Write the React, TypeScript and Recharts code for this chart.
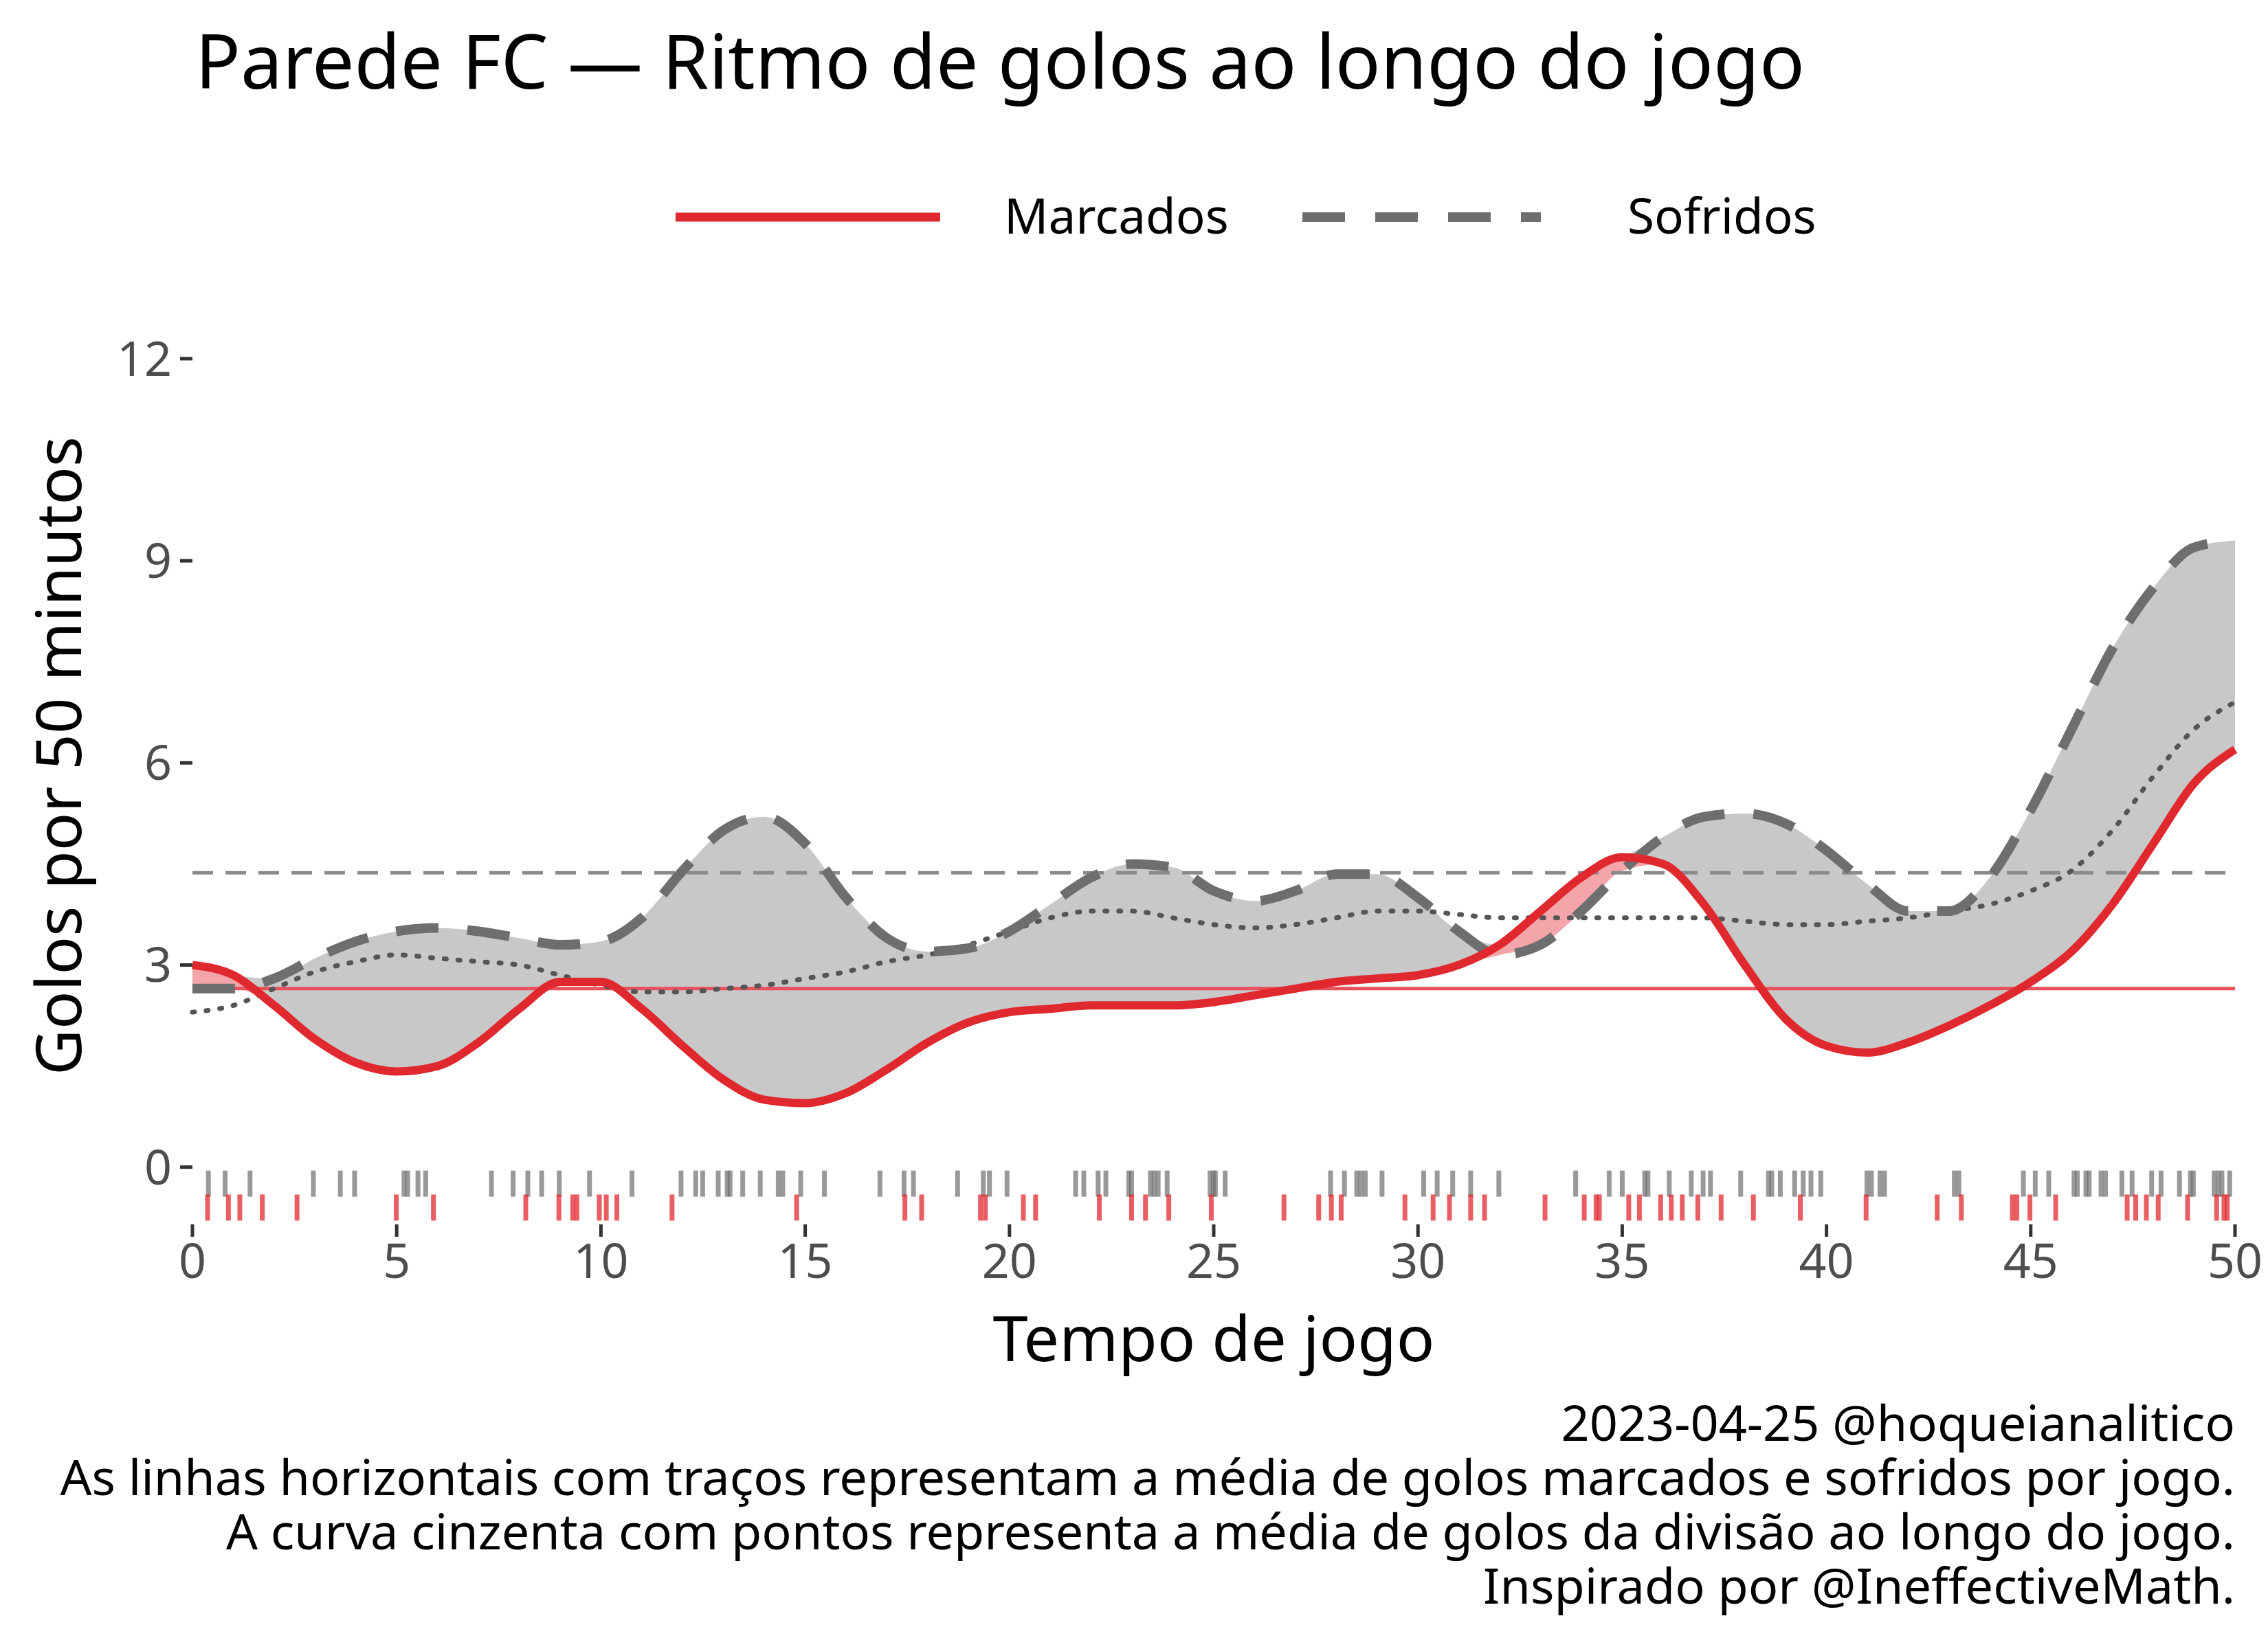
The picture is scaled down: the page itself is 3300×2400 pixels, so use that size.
import React from "react";
import { ComposedChart, Area, Line, Scatter, XAxis, YAxis, ReferenceLine } from "recharts";

const minutes = Array.from({ length: 51 }, (_, i) => i);
const marcados = [3.0, 2.85, 2.4, 1.9, 1.55, 1.42, 1.5, 1.85, 2.35, 2.75, 2.75, 2.35, 1.8, 1.3, 1.0, 0.95, 1.1, 1.45, 1.85, 2.15, 2.3, 2.35, 2.4, 2.4, 2.4, 2.45, 2.55, 2.65, 2.75, 2.8, 2.85, 3.0, 3.3, 3.8, 4.3, 4.6, 4.5, 3.9, 3.0, 2.2, 1.8, 1.7, 1.85, 2.1, 2.4, 2.75, 3.2, 3.9, 4.8, 5.7, 6.2];
const sofridos = [2.65, 2.65, 2.8, 3.1, 3.35, 3.5, 3.55, 3.5, 3.4, 3.3, 3.35, 3.7, 4.4, 5.0, 5.2, 4.8, 4.0, 3.4, 3.2, 3.25, 3.5, 3.9, 4.3, 4.5, 4.45, 4.1, 3.95, 4.1, 4.35, 4.35, 4.0, 3.5, 3.15, 3.3, 3.8, 4.4, 4.9, 5.2, 5.25, 5.1, 4.7, 4.2, 3.8, 3.8, 4.3, 5.3, 6.5, 7.7, 8.6, 9.2, 9.3];
const divisao = [2.3, 2.4, 2.65, 2.9, 3.05, 3.15, 3.1, 3.05, 3.0, 2.85, 2.7, 2.6, 2.6, 2.65, 2.7, 2.8, 2.9, 3.05, 3.15, 3.3, 3.5, 3.7, 3.8, 3.8, 3.7, 3.6, 3.55, 3.6, 3.7, 3.8, 3.8, 3.75, 3.7, 3.7, 3.7, 3.7, 3.7, 3.7, 3.65, 3.6, 3.6, 3.65, 3.7, 3.8, 3.9, 4.1, 4.4, 5.0, 5.8, 6.5, 6.9];
const mediaMarcados = 2.65;
const mediaSofridos = 4.37;

const rugSofridos = [0.39, 0.8, 1.41, 2.96, 3.62, 3.97, 5.18, 5.27, 5.52, 5.71, 7.32, 7.85, 8.21, 8.55, 8.98, 9.72, 10.76, 11.96, 12.32, 12.49, 12.87, 13.09, 13.16, 13.47, 13.9, 14.34, 14.45, 14.89, 15.47, 16.83, 17.42, 17.65, 18.73, 19.36, 19.51, 19.94, 21.62, 21.82, 22.17, 22.36, 22.92, 22.99, 23.45, 23.54, 23.64, 23.86, 24.91, 24.99, 25.04, 25.28, 27.86, 28.2, 28.5, 28.6, 28.71, 29.12, 30.14, 30.47, 30.85, 31.29, 31.98, 33.86, 34.68, 35.0, 35.55, 35.63, 36.15, 36.69, 36.98, 37.16, 37.9, 38.58, 38.66, 38.87, 39.22, 39.43, 39.62, 39.86, 40.99, 41.1, 41.31, 41.42, 43.13, 43.24, 44.82, 45.11, 45.44, 46.06, 46.14, 46.35, 46.43, 46.72, 46.83, 47.23, 47.48, 47.96, 48.19, 48.64, 48.91, 48.98, 49.49, 49.59, 49.68, 49.87];
const rugMarcados = [0.37, 0.88, 1.16, 1.71, 2.56, 4.99, 5.9, 8.16, 8.97, 9.31, 9.41, 9.96, 10.13, 10.39, 11.74, 14.79, 17.44, 17.85, 19.29, 19.41, 20.34, 20.64, 22.2, 22.99, 23.33, 23.9, 24.94, 26.72, 27.57, 27.88, 28.12, 29.68, 30.37, 30.77, 31.29, 31.63, 33.11, 34.07, 34.36, 34.44, 35.16, 35.42, 35.94, 36.2, 36.47, 36.85, 37.42, 38.21, 39.36, 40.97, 42.71, 43.3, 44.55, 44.66, 44.98, 45.61, 47.36, 47.57, 47.83, 48.12, 48.84, 49.55, 49.73, 49.81];

const xTicks = [0, 5, 10, 15, 20, 25, 30, 35, 40, 45, 50];
const yTicks = [0, 3, 6, 9, 12];
const captions = [
  "2023-04-25 @hoqueianalitico",
  "As linhas horizontais com traços representam a média de golos marcados e sofridos por jogo.",
  "A curva cinzenta com pontos representa a média de golos da divisão ao longo do jogo.",
  "Inspirado por @IneffectiveMath.",
];

const RED = "#e0282f";
const GREY = "#6e6e6e";
const FONT = "'Noto Sans', sans-serif";

const data = minutes.map((t, i) => ({
  t,
  marc: marcados[i],
  sof: sofridos[i],
  div: divisao[i],
  band: [Math.min(marcados[i], sofridos[i]), Math.max(marcados[i], sofridos[i])],
  pink: marcados[i] > sofridos[i] ? [sofridos[i], marcados[i]] : [marcados[i], marcados[i]],
}));

const rugS = rugSofridos.map((t) => ({ t, y: -0.245 }));
const rugM = rugMarcados.map((t) => ({ t, y: -0.6 }));

const rugShape = (color: string) => (p: any) => (
  <line x1={p.cx} x2={p.cx} y1={p.cy - 19} y2={p.cy + 19} stroke={color} strokeWidth={7} />
);

export default function App() {
  return (
    <div style={{ position: "absolute", left: 0, top: 0, width: 3300, height: 2400, background: "#fff", fontFamily: FONT }}>
      <div style={{ position: "absolute", left: 284, top: 22, fontSize: 109, lineHeight: "130px", color: "#000", whiteSpace: "nowrap" }}>
        Parede FC — Ritmo de golos ao longo do jogo
      </div>
      <svg style={{ position: "absolute", left: 0, top: 260 }} width={3300} height={120}>
        <line x1={983} x2={1368} y1={56} y2={56} stroke={RED} strokeWidth={13} />
        <text x={1461} y={80} fontSize={71} fontFamily={FONT} fill="#000">Marcados</text>
        <line x1={1895} x2={2242} y1={56} y2={56} stroke={GREY} strokeWidth={14} strokeDasharray="62 44" />
        <text x={2368} y={80} fontSize={71} fontFamily={FONT} fill="#000">Sofridos</text>
      </svg>
      <div style={{ position: "absolute", left: 0, top: 0 }}>
        <ComposedChart width={3300} height={2000} data={data} margin={{ top: 473, right: 48, left: 120, bottom: 118 }}>
          <XAxis
            dataKey="t"
            type="number"
            domain={[0, 50]}
            ticks={xTicks}
            height={100}
            axisLine={false}
            tickLine={{ stroke: "#333", strokeWidth: 5 }}
            tickSize={18}
            tick={{ fill: "#4d4d4d", fontSize: 70, fontFamily: FONT, dy: 8 }}
          />
          <YAxis
            type="number"
            domain={[-0.85, 12.5]}
            ticks={yTicks}
            width={160}
            axisLine={false}
            tickLine={{ stroke: "#333", strokeWidth: 5 }}
            tickSize={18}
            tick={{ fill: "#4d4d4d", fontSize: 70, fontFamily: FONT, dx: -10 }}
          />
          <Area dataKey="band" type="monotone" stroke="none" fill="#c8c8c8" fillOpacity={1} isAnimationActive={false} />
          <Area dataKey="pink" type="monotone" stroke="none" fill="#f4a5aa" fillOpacity={1} isAnimationActive={false} />
          <ReferenceLine y={mediaSofridos} stroke="#8a8a8a" strokeWidth={5} strokeDasharray="30 18" />
          <ReferenceLine y={mediaMarcados} stroke="#e8505b" strokeWidth={5} />
          <Line dataKey="div" type="monotone" stroke="#555" strokeWidth={7} strokeDasharray="3 17" strokeLinecap="round" dot={false} isAnimationActive={false} />
          <Line dataKey="sof" type="monotone" stroke={GREY} strokeWidth={14} strokeDasharray="62 42" dot={false} isAnimationActive={false} />
          <Line dataKey="marc" type="monotone" stroke={RED} strokeWidth={12} dot={false} isAnimationActive={false} />
          <Scatter data={rugS} dataKey="y" shape={rugShape("rgba(110,110,110,0.7)")} isAnimationActive={false} />
          <Scatter data={rugM} dataKey="y" shape={rugShape("rgba(224,40,47,0.75)")} isAnimationActive={false} />
        </ComposedChart>
      </div>
      <div style={{ position: "absolute", left: 1766, top: 1945, transform: "translate(-50%, -50%)", fontSize: 92, color: "#000", whiteSpace: "nowrap" }}>
        Tempo de jogo
      </div>
      <div style={{ position: "absolute", left: 82, top: 1100, transform: "translate(-50%, -50%) rotate(-90deg)", fontSize: 92, color: "#000", whiteSpace: "nowrap" }}>
        Golos por 50 minutos
      </div>
      <div style={{ position: "absolute", right: 48, top: 2030, textAlign: "right", fontSize: 72, lineHeight: "79px", color: "#000", whiteSpace: "nowrap" }}>
        {captions.map((c) => (
          <div key={c}>{c}</div>
        ))}
      </div>
    </div>
  );
}
